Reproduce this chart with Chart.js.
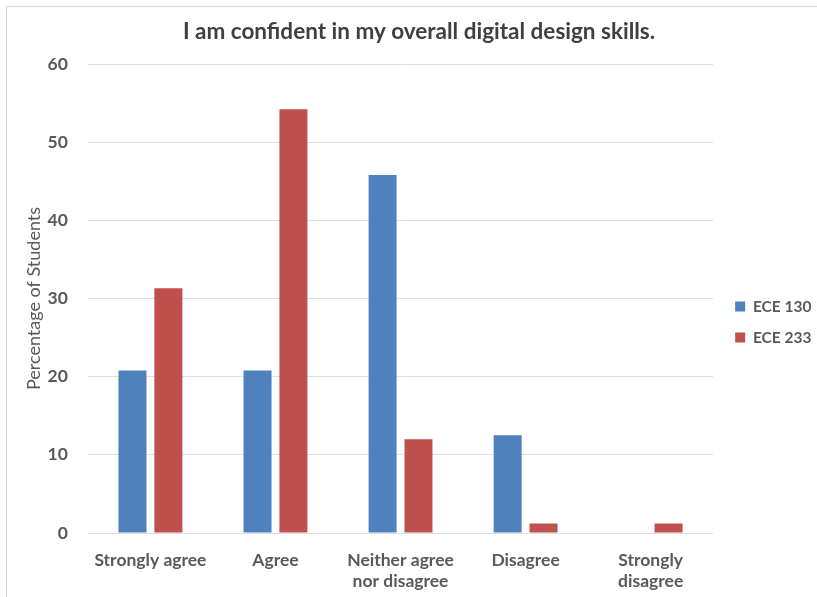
<!DOCTYPE html>
<html>
<head>
<meta charset="utf-8">
<script src="https://cdn.jsdelivr.net/npm/chart.js@4/dist/chart.umd.min.js"></script>
<style>
  html, body { margin: 0; padding: 0; background: #ffffff; }
  #wrap { position: relative; width: 817px; height: 597px; }
  #frame { position: absolute; left: 6px; top: 6px; right: 0; bottom: 0;
           border-left: 1px solid #d6d6d6; border-top: 1px solid #d6d6d6; }
  canvas { position: absolute; left: 0; top: 0; }
</style>
</head>
<body>
<div id="wrap">
  <div id="frame"></div>
  <canvas id="chart" width="817" height="597"></canvas>
</div>
<script>
// Survey responses, percentage of students per answer
const categories = [
  'Strongly agree',
  'Agree',
  ['Neither agree', 'nor disagree'],
  'Disagree',
  ['Strongly', 'disagree']
];
const ece130 = [20.8, 20.8, 45.8, 12.5, 0];
const ece233 = [31.3, 54.2, 12.0, 1.2, 1.2];
const yTicks = [0, 10, 20, 30, 40, 50, 60];

const FONT = 'Lato, "Open Sans", sans-serif';
const GREY = '#595959';

// Nudges the legend a few pixels away from the plot area
const legendGap = {
  id: 'legendGap',
  afterLayout(chart) {
    const lg = chart.legend;
    if (lg) { lg.left += 6.5; lg.right += 6.5; }
  }
};

new Chart(document.getElementById('chart'), {
  type: 'bar',
  data: {
    labels: categories,
    datasets: [
      { label: 'ECE 130', data: ece130, backgroundColor: '#4F81BD',
        categoryPercentage: 0.574, barPercentage: 0.78 },
      { label: 'ECE 233', data: ece233, backgroundColor: '#C0504D',
        categoryPercentage: 0.574, barPercentage: 0.78 }
    ]
  },
  plugins: [legendGap],
  options: {
    responsive: false,
    animation: false,
    layout: { padding: { top: 18, left: 23, right: 2, bottom: 3 } },
    plugins: {
      title: {
        display: true,
        text: 'I am confident in my overall digital design skills.',
        color: '#404040',
        font: { family: FONT, size: 22.5, weight: 'bold', lineHeight: 1.2 },
        padding: { top: 0, bottom: 19 }
      },
      legend: {
        position: 'right',
        title: { display: true, text: ' ', font: { size: 10 }, padding: { top: 10, bottom: 10 } },
        labels: {
          boxWidth: 10, boxHeight: 10, padding: 15.5,
          color: GREY,
          font: { family: FONT, size: 15.5, weight: 'bold' }
        }
      },
      tooltip: { enabled: false }
    },
    scales: {
      x: {
        grid: { display: true, drawOnChartArea: false, drawTicks: true,
                tickLength: 14, tickColor: 'rgba(0,0,0,0)' },
        border: { display: false },
        ticks: {
          color: GREY, padding: 2.5, maxRotation: 0, autoSkip: false,
          font: { family: FONT, size: 17.5, weight: 'bold', lineHeight: 1.2 }
        }
      },
      y: {
        min: 0, max: 60,
        afterBuildTicks: (scale) => { scale.ticks = yTicks.map(v => ({ value: v })); },
        grid: { color: '#e0e0e0', drawTicks: true, tickLength: 17, tickColor: 'rgba(0,0,0,0)' },
        border: { display: false },
        ticks: {
          color: GREY, padding: 3,
          font: { family: FONT, size: 17.5, weight: 'bold' }
        },
        title: {
          display: true, text: 'Percentage of Students', color: GREY,
          font: { family: FONT, size: 18, lineHeight: 1.2 }, padding: { top: 0, bottom: 0 }
        }
      }
    }
  }
});
</script>
</body>
</html>
